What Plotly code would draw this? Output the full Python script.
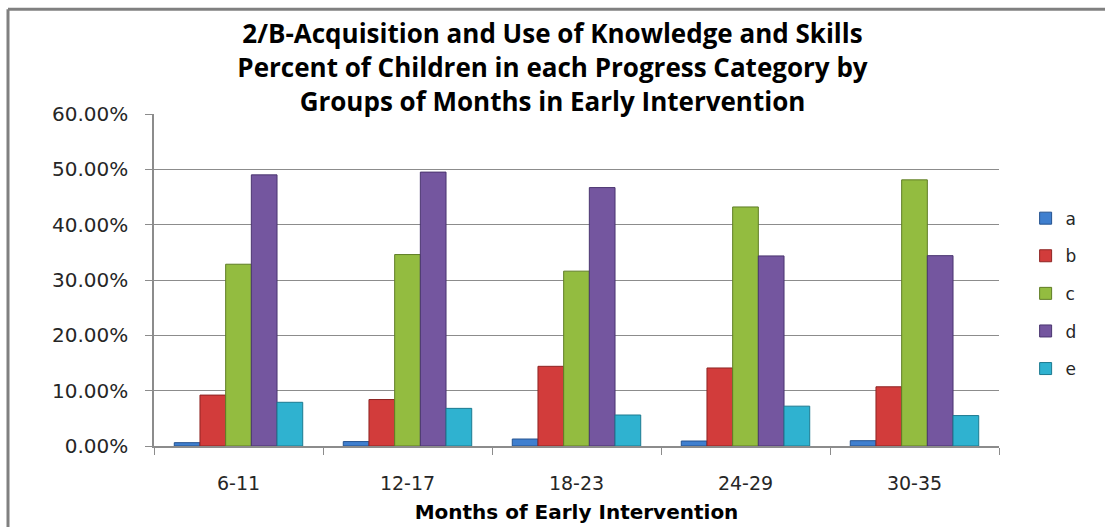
import plotly.graph_objects as go

categories = ["6-11", "12-17", "18-23", "24-29", "30-35"]
series_names = ["a", "b", "c", "d", "e"]
a_vals = [0.006, 0.008, 0.0126, 0.009, 0.0096]
b_vals = [0.092, 0.084, 0.144, 0.141, 0.107]
c_vals = [0.3285, 0.346, 0.316, 0.432, 0.481]
d_vals = [0.490, 0.495, 0.467, 0.3435, 0.344]
e_vals = [0.079, 0.068, 0.056, 0.072, 0.055]
y_ticks = [0, 0.1, 0.2, 0.3, 0.4, 0.5, 0.6]

all_vals = [a_vals, b_vals, c_vals, d_vals, e_vals]
colors = ["#3F7FCF", "#D23C3B", "#93BC40", "#74569F", "#2FB2D0"]
edges = ["#24528F", "#8E2423", "#5F7D25", "#4A3570", "#1C7A90"]

fig = go.Figure()
for name, vals, col, edge in zip(series_names, all_vals, colors, edges):
    fig.add_trace(go.Bar(
        x=categories, y=vals, name=name, legendgroup=name,
        marker=dict(color=col, line=dict(color=edge, width=1)),
    ))

fig.update_layout(
    width=1105, height=527,
    margin=dict(l=154, r=106, t=114, b=81, autoexpand=False),
    paper_bgcolor="white", plot_bgcolor="white",
    barmode="group", bargap=0.24, bargroupgap=0,
    title=dict(
        text="2/B-Acquisition and Use of Knowledge and Skills<br>Percent of Children in each Progress Category by<br>Groups of Months in Early Intervention",
        x=0.5, xanchor="center", y=1 - 43 / 527, yanchor="top",
        font=dict(family="Open Sans", size=26, color="#000000", weight="bold"),
    ),
    showlegend=True,
    legend=dict(
        x=1.0315, xanchor="left", y=0.459, yanchor="middle",
        font=dict(family="DejaVu Sans", size=17, color="#262626"),
        tracegroupgap=12.5, bgcolor="rgba(0,0,0,0)",
    ),
    font=dict(family="DejaVu Sans", color="#262626"),
)

fig.update_xaxes(
    automargin=False,
    showline=True, linecolor="#8C8C8C", linewidth=1.5,
    ticks="outside", tickson="boundaries", ticklen=7, tickcolor="#8C8C8C",
    tickfont=dict(family="DejaVu Sans", size=19, color="#262626"),
    ticklabelstandoff=19,
    title=dict(text="Months of Early Intervention", standoff=12,
               font=dict(family="DejaVu Sans", size=20, color="#000000", weight="bold")),
    showgrid=False,
)
fig.update_yaxes(
    automargin=False,
    range=[0, 0.6], tickvals=y_ticks, tickformat=".2%",
    showline=True, linecolor="#8C8C8C", linewidth=1.5,
    ticks="outside", ticklen=7, tickcolor="#8C8C8C",
    tickfont=dict(family="DejaVu Sans", size=20, color="#262626"),
    ticklabelstandoff=13,
    showgrid=True, gridcolor="#8C8C8C", gridwidth=1,
    zeroline=False,
)

# outer chart frame (left and top edges only are visible in the reference)
frame_left = (8 - 154) / 845
frame_top = (446 - 8.5) / 332.5
fig.add_shape(type="line", xref="paper", yref="paper",
              x0=frame_left, x1=frame_left, y0=-0.5, y1=frame_top,
              line=dict(color="#808080", width=3), layer="below")
fig.add_shape(type="line", xref="paper", yref="paper",
              x0=frame_left, x1=1.5, y0=frame_top, y1=frame_top,
              line=dict(color="#808080", width=3), layer="below")

fig.write_html("out.html", config={"displayModeBar": False},
               post_script="document.body.style.margin='0';document.body.style.overflow='hidden';")
